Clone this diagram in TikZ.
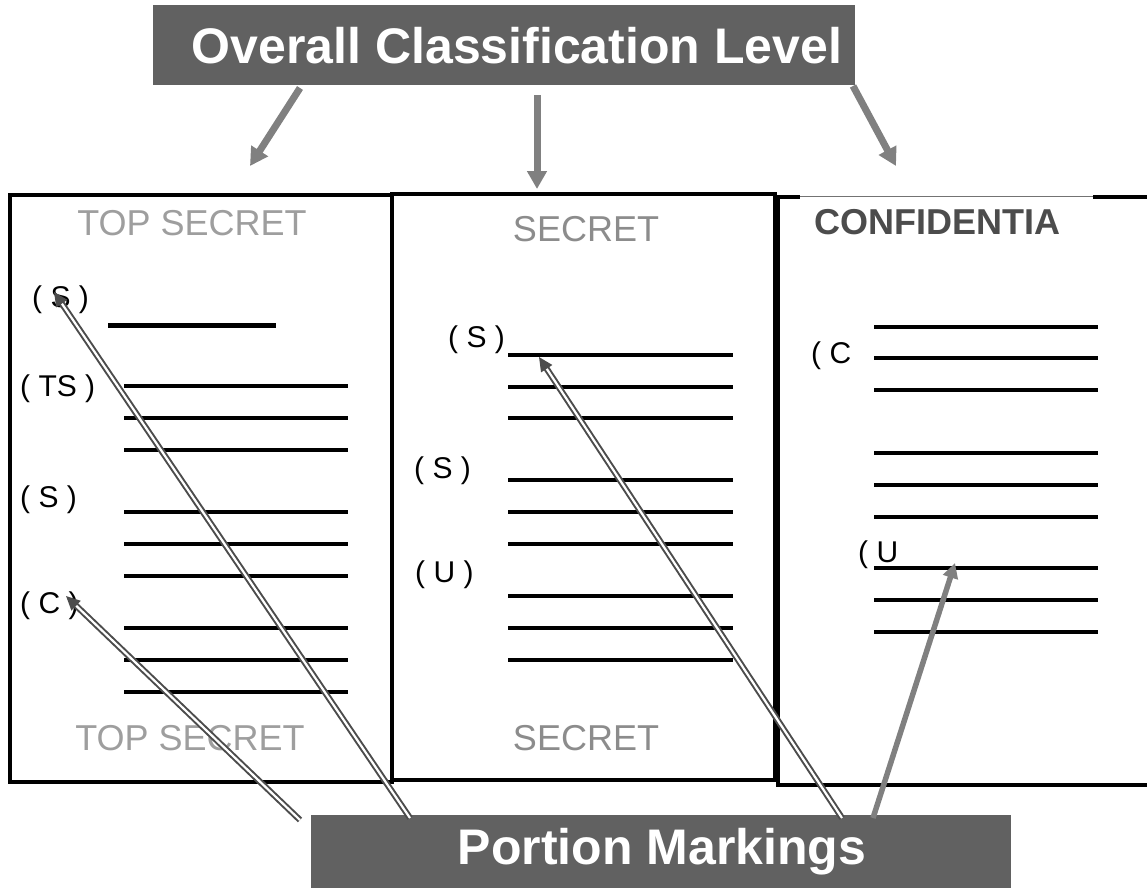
\documentclass[tikz,border=0pt]{standalone}
\usepackage{fontspec}
\setmainfont{Liberation Sans}
\usetikzlibrary{arrows.meta}
\begin{document}
\begin{tikzpicture}[x=1pt,y=-1pt,
  bannerbox/.style={fill=black!62, draw=none, inner sep=0},
  bannertext/.style={text=white, font=\fontsize{50}{55}\selectfont\bfseries, inner sep=0},
  page/.style={draw=black, line width=3.4pt},
  textrule/.style={line width=3.1pt, line cap=butt},
  pmark/.style={font=\fontsize{30}{34}\selectfont, inner sep=0, anchor=west},
  classlt/.style={text=black!38, font=\fontsize{36}{40}\selectfont, inner sep=0},
  classmid/.style={text=black!45, font=\fontsize{36}{40}\selectfont, inner sep=0},
  classdk/.style={text=black!70, font=\fontsize{36}{40}\selectfont\bfseries, inner sep=0},
  toparrow/.style={draw=black!50, line width=7pt, -{Triangle[length=18pt,width=19pt]}},
  dblarrow/.style={draw=black!70, line width=2pt, double=white, double distance=2.2pt, -{Triangle[length=14pt,width=13pt]}},
]
\useasboundingbox (0,0) rectangle (1147,887);

% banners
\node[bannerbox, minimum width=702pt, minimum height=80pt] (titlebox) at (504,45) {};
\node[bannertext] (title) at (517,46) {Overall Classification Level};
\node[bannerbox, minimum width=700pt, minimum height=74pt] (portionbox) at (661,852) {};
\node[bannertext] (portion) at (662,852) {Portion Markings};

% pages
\draw[page] (10,195) rectangle (392,782);
\draw[page] (392,194) rectangle (775,780);
\draw[page] (1093,197) -- (1150,197) -- (1150,785) -- (778,785) -- (778,197) -- (800,197);
\draw[black!55, line width=1pt] (800,196) -- (1093,196);

% classification banners on pages
\node[classlt] (lt) at (192,223) {TOP SECRET};
\node[classlt] (lb) at (190,738) {TOP SECRET};
\node[classmid] (mt) at (586,229) {SECRET};
\node[classmid] (mb) at (586,738) {SECRET};
\node[classdk] (rt) at (937,222) {CONFIDENTIA};

% left page
\node[pmark] (l1) at (32,300) {( S )};
\draw[line width=5pt] (108,325) -- (276,325);
\node[pmark] (l2) at (20,389) {( TS )};
\node[pmark] (l3) at (20,500) {( S )};
\node[pmark] (l4) at (20,606) {( C )};
\foreach \y in {386,418,450,512,544,576,628,660,692}
  \draw[textrule] (124,\y) -- (348,\y);

% middle page
\node[pmark] (m1) at (448,340) {( S )};
\node[pmark] (m2) at (414,471) {( S )};
\node[pmark] (m3) at (415,575) {( U )};
\foreach \y in {355,387,418,480,512,544,596,628,660}
  \draw[textrule] (508,\y) -- (733,\y);

% right page
\node[pmark] (r1) at (811,356) {( C};
\node[pmark] (r2) at (858,555) {( U};
\foreach \y in {327,358,390,453,485,517,568,600,632}
  \draw[textrule] (874,\y) -- (1098,\y);

% arrows from the overall classification level
\coordinate (ta1) at (300,88);
\coordinate (ta2) at (537,95);
\coordinate (ta3) at (853,86);
\coordinate (te1) at (250,166);
\coordinate (te2) at (537,189);
\coordinate (te3) at (896,166);
\draw[toparrow] (ta1) -- (te1);
\draw[toparrow] (ta2) -- (te2);
\draw[toparrow] (ta3) -- (te3);

% arrows from portion markings
\coordinate (pa1) at (300,820);
\coordinate (pa2) at (410,818);
\coordinate (pa3) at (842,818);
\coordinate (pa4) at (873,818);
\coordinate (pe1) at (66,596);
\coordinate (pe2) at (54,292);
\coordinate (pe3) at (539,357);
\coordinate (pe4) at (955,563);
\draw[dblarrow] (pa1) -- (pe1);
\draw[dblarrow] (pa2) -- (pe2);
\draw[dblarrow] (pa3) -- (pe3);
\draw[draw=black!50, line width=5.5pt, -{Triangle[length=15pt,width=15pt]}] (pa4) -- (pe4);
\end{tikzpicture}
\end{document}
